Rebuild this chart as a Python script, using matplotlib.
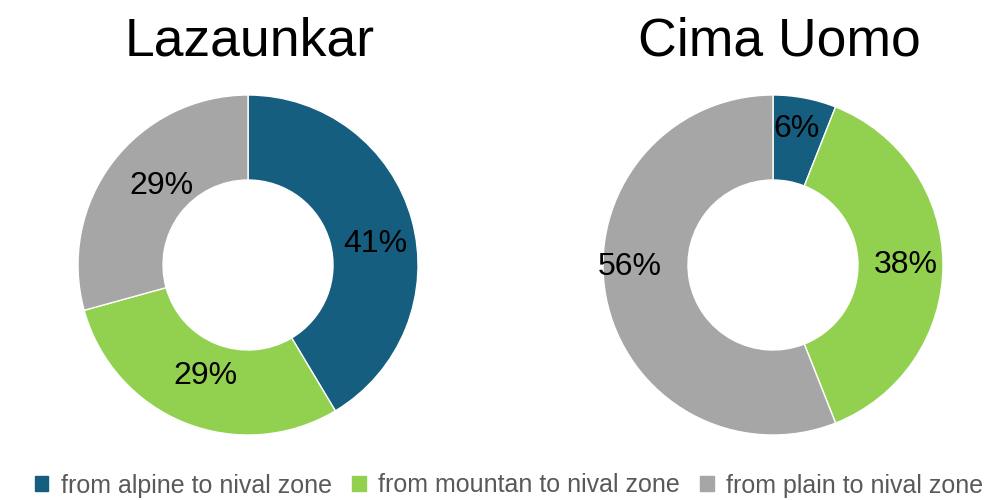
import matplotlib
matplotlib.use('Agg')
import numpy as np
import matplotlib.pyplot as plt

categories = ['from alpine to nival zone', 'from mountan to nival zone', 'from plain to nival zone']
sites = ['Lazaunkar', 'Cima Uomo']
lazaunkar = [41, 29, 29]
cima_uomo = [6, 38, 56]
colors = ['#165E80', '#92D050', '#A6A6A6']

# label placement nudges (degrees from wedge middle, radius as fraction)
label_shift = [[-6, 1, -5], [1, 0, -10]]
label_rad = [[0.76, 0.70, 0.69], [0.81, 0.78, 0.84]]

fig = plt.figure(figsize=(10.08, 5.0), dpi=100)

positions = [[0.0774, 0.13, 0.3373, 0.68], [0.5982, 0.13, 0.3373, 0.68]]
title_x = [250 / 1008, 779 / 1008]

for i, (pos, name, vals, tx) in enumerate(zip(positions, sites, [lazaunkar, cima_uomo], title_x)):
    ax = fig.add_axes(pos)
    wedges, texts = ax.pie(vals, colors=colors, startangle=90, counterclock=False,
                           radius=1.0, wedgeprops=dict(width=0.5, edgecolor='white', linewidth=1))
    for j, (w, v) in enumerate(zip(wedges, vals)):
        ang = np.deg2rad((w.theta1 + w.theta2) / 2 + label_shift[i][j])
        r = label_rad[i][j]
        ax.text(r * np.cos(ang), r * np.sin(ang), '%d%%' % v,
                ha='center', va='center', fontsize=23, family='Liberation Sans', color='black')
    ax.set_xlim(-1, 1)
    ax.set_ylim(-1, 1)
    ax.set_aspect('equal')
    fig.text(tx, 0.918, name, ha='center', va='center', fontsize=38.5, family='Liberation Sans')

handles = [plt.Rectangle((0, 0), 1, 1, color=c) for c in colors]
fig.legend(handles, categories, loc='lower center', bbox_to_anchor=(0.505, -0.04), ncol=3,
           frameon=False, handlelength=0.55, handleheight=0.55, handletextpad=0.5, columnspacing=0.8,
           prop={'family': 'Liberation Sans', 'size': 18}, labelcolor='#595959')

fig.savefig('out.png', dpi=100)
